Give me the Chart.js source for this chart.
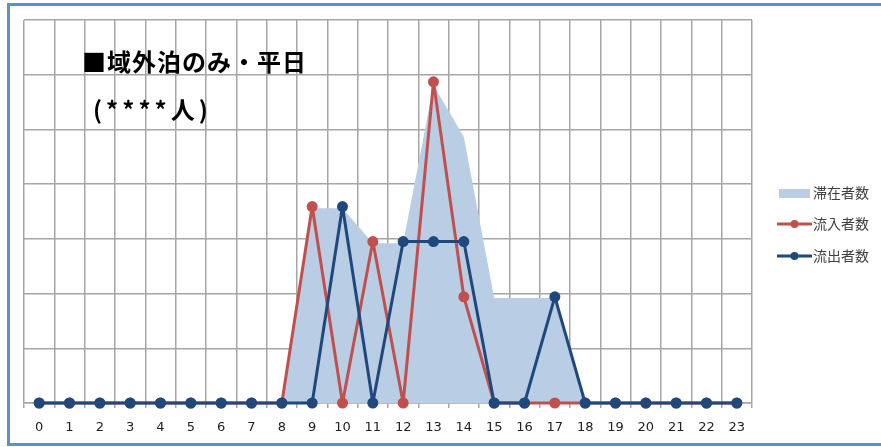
<!DOCTYPE html>
<html>
<head>
<meta charset="utf-8">
<style>
  html, body { margin: 0; padding: 0; background: #ffffff; }
  #wrap { width: 881px; height: 447px; position: relative; }
</style>
</head>
<body>
<div id="wrap"><canvas id="myChart" width="881" height="447"></canvas></div>
<script src="https://cdn.jsdelivr.net/npm/chart.js@4.4.2/dist/chart.umd.min.js"></script>
<script>
// hours of the day
const hours = ['0','1','2','3','4','5','6','7','8','9','10','11','12','13','14','15','16','17','18','19','20','21','22','23'];

// 滞在者数 (area)
const stayCount = [0,0,0,0,0,0,0,0,0,3.56,3.56,2.92,2.92,5.81,4.86,1.92,1.92,1.92,0,0,0,0,0,0];
// 流入者数
const inflowCount = [0,0,0,0,0,0,0,0,0,3.59,0,2.95,0,5.87,1.94,0,0,0,0,0,0,0,0,0];
// 流出者数
const outflowCount = [0,0,0,0,0,0,0,0,0,0,3.59,0,2.95,2.95,2.95,0,0,1.94,0,0,0,0,0,0];

const seriesNames = ['滞在者数', '流入者数', '流出者数'];
const titleLines = ['■域外泊のみ・平日', '(****人)'];

const AREA = '#b9cde5';
const RED = '#c0504d';
const BLUE = '#1f497d';
const CJK = '"Noto Sans CJK JP", "Noto Sans", sans-serif';

// frame, title and legend drawn on the canvas
const decor = {
    id: 'decor',
    beforeDraw(chart) {
        const ctx = chart.ctx;
        ctx.save();
        ctx.fillStyle = '#ffffff';
        ctx.fillRect(0, 0, chart.width, chart.height);
        ctx.restore();
    },
    afterDraw(chart) {
        const ctx = chart.ctx;
        ctx.save();
        // blue outer frame
        ctx.strokeStyle = '#5b8fd8';
        ctx.lineWidth = 3;
        ctx.strokeRect(8.5, 4.5, 900, 440);

        // title text
        ctx.fillStyle = '#000000';
        ctx.textBaseline = 'middle';
        ctx.font = 'bold 24px ' + CJK;
        ctx.letterSpacing = '1px';
        ctx.fillText(titleLines[0], 82, 62);
        ctx.letterSpacing = '4px';
        ctx.fillText(titleLines[1], 93, 110);
        ctx.letterSpacing = '0px';

        // legend
        const ds = chart.data.datasets;
        const rows = [193, 224, 256];
        ctx.font = '14px ' + CJK;
        rows.forEach((y, i) => {
            if (i === 0) {
                ctx.fillStyle = ds[0].backgroundColor;
                ctx.fillRect(779, y - 4, 31, 9);
            } else {
                ctx.strokeStyle = ds[i].borderColor;
                ctx.lineWidth = 3;
                ctx.beginPath();
                ctx.moveTo(777, y);
                ctx.lineTo(812, y);
                ctx.stroke();
                ctx.fillStyle = ds[i].borderColor;
                ctx.beginPath();
                ctx.arc(794.5, y, 4, 0, Math.PI * 2);
                ctx.fill();
            }
            ctx.fillStyle = '#404040';
            ctx.fillText(seriesNames[i], 813, y);
        });
        ctx.restore();
    }
};

const data = {
    labels: hours,
    datasets: [
        {
            label: seriesNames[0],
            data: stayCount,
            backgroundColor: AREA,
            borderWidth: 0,
            pointRadius: 0,
            fill: 'origin',
            order: 2
        },
        {
            label: seriesNames[1],
            data: inflowCount,
            borderColor: RED,
            backgroundColor: RED,
            borderWidth: 3,
            borderJoinStyle: 'round',
            pointRadius: 5.5,
            pointBorderWidth: 0,
            fill: false,
            clip: false,
            order: 1
        },
        {
            label: seriesNames[2],
            data: outflowCount,
            borderColor: BLUE,
            backgroundColor: BLUE,
            borderWidth: 3,
            borderJoinStyle: 'round',
            pointRadius: 5.5,
            pointBorderWidth: 0,
            fill: false,
            clip: false,
            order: 0
        }
    ]
};

const config = {
    type: 'line',
    data,
    plugins: [decor],
    options: {
        responsive: false,
        animation: false,
        layout: {
            padding: { left: 24, top: 20, right: 129, bottom: 0 }
        },
        plugins: {
            legend: { display: false },
            title: { display: false },
            tooltip: { enabled: false }
        },
        scales: {
            x: {
                offset: true,
                grid: {
                    offset: true,
                    color: '#a6a6a6',
                    lineWidth: 1.5,
                    tickLength: 5
                },
                border: { color: '#a6a6a6', width: 1.5 },
                ticks: {
                    color: '#222222',
                    font: { family: '"DejaVu Sans", Verdana, sans-serif', size: 13 },
                    padding: 12,
                    maxRotation: 0,
                    autoSkip: false
                },
                afterFit: (s) => { s.height = 44; }
            },
            y: {
                min: 0,
                max: 7,
                ticks: { display: false, stepSize: 1 },
                grid: {
                    color: '#a6a6a6',
                    lineWidth: 1.5,
                    drawTicks: false
                },
                border: { display: false },
                afterFit: (s) => { s.width = 0; }
            }
        }
    }
};

const myChart = new Chart(document.getElementById('myChart'), config);
</script>
</body>
</html>
